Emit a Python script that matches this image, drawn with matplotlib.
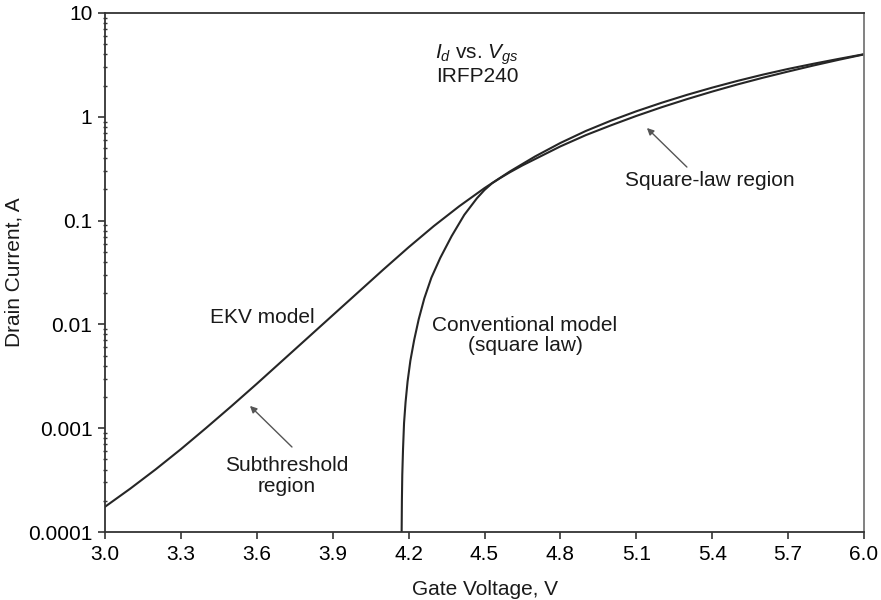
import numpy as np
import matplotlib
matplotlib.use('Agg')
import matplotlib.pyplot as plt
from matplotlib.ticker import FixedLocator, FixedFormatter, LogLocator, NullFormatter

plt.rcParams['font.family'] = ['Liberation Sans', 'DejaVu Sans']
plt.rcParams['mathtext.fontset'] = 'custom'
plt.rcParams['mathtext.rm'] = 'Liberation Sans'
plt.rcParams['mathtext.it'] = 'Liberation Sans:italic'

# EKV model
ekv_v = [3.0, 3.1, 3.2, 3.3, 3.4, 3.5, 3.6, 3.7, 3.8, 3.9, 4.0, 4.1, 4.2,
         4.3, 4.4, 4.5, 4.6, 4.7, 4.8, 4.9, 5.0, 5.1, 5.2, 5.3, 5.4, 5.5,
         5.6, 5.7, 5.8, 5.9, 6.0]
ekv_i = [1.750e-4, 2.618e-4, 4.009e-4, 6.281e-4, 1.007e-3, 1.633e-3,
         2.679e-3, 4.446e-3, 7.379e-3, 0.01225, 0.02032, 0.03373, 0.05534,
         0.08872, 0.1374, 0.2056, 0.2972, 0.4150, 0.5598, 0.7295, 0.9183,
         1.130, 1.365, 1.626, 1.910, 2.218, 2.547, 2.891, 3.243, 3.614, 4.009]

# conventional square-law model
sq_v = [4.1725, 4.1735, 4.175, 4.178, 4.182, 4.188, 4.196, 4.207, 4.222,
        4.24, 4.262, 4.29, 4.325, 4.37, 4.42, 4.47, 4.50, 4.53, 4.56, 4.60,
        4.65, 4.7, 4.8, 4.9, 5.0, 5.1, 5.2, 5.3, 5.4, 5.5, 5.6, 5.7, 5.8,
        5.9, 6.0]
sq_i = [1.0e-4, 2.0e-4, 3.55e-4, 6.3e-4, 1.12e-3, 1.78e-3, 2.82e-3, 4.47e-3,
        7.08e-3, 0.01122, 0.01778, 0.02818, 0.04365, 0.07079, 0.1135, 0.1641,
        0.1972, 0.2291, 0.2553, 0.2917, 0.3404, 0.3917, 0.5188, 0.6653,
        0.8279, 1.019, 1.236, 1.479, 1.750, 2.051, 2.377, 2.729, 3.119,
        3.540, 3.990]

xticks = [3.0, 3.3, 3.6, 3.9, 4.2, 4.5, 4.8, 5.1, 5.4, 5.7, 6.0]
xtick_labels = ["3.0", "3.3", "3.6", "3.9", "4.2", "4.5", "4.8", "5.1", "5.4", "5.7", "6.0"]
yticks = [1e-4, 1e-3, 1e-2, 1e-1, 1, 10]
ytick_labels = ["0.0001", "0.001", "0.01", "0.1", "1", "10"]

fig = plt.figure(figsize=(8.81, 6), dpi=100)
ax = fig.add_axes([105 / 881, 1 - 532 / 600, 759 / 881, 519 / 600])

line_col = '#262626'
ax.plot(ekv_v, ekv_i, color=line_col, lw=1.5)
ax.plot(sq_v, sq_i, color=line_col, lw=1.5)

ax.set_yscale('log')
ax.set_xlim(3.0, 6.0)
ax.set_ylim(1e-4, 10)

ax.xaxis.set_major_locator(FixedLocator(xticks))
ax.xaxis.set_major_formatter(FixedFormatter(xtick_labels))
ax.yaxis.set_major_locator(FixedLocator(yticks))
ax.yaxis.set_major_formatter(FixedFormatter(ytick_labels))
ax.yaxis.set_minor_locator(LogLocator(base=10, subs=np.arange(2, 10)))
ax.yaxis.set_minor_formatter(NullFormatter())

ax.tick_params(axis='both', which='major', direction='out', length=5, width=1.2,
               color='#333333', labelsize=15, pad=4)
ax.tick_params(axis='y', which='minor', direction='inout', length=3, width=1.0,
               color='#333333')
for s in ax.spines.values():
    s.set_color('#333333')
    s.set_linewidth(1.3)
ax.spines['right'].set_color('#777777')

ax.set_xlabel("Gate Voltage, V", fontsize=15, labelpad=12, color='#1a1a1a')
ax.set_ylabel("Drain Current, A", fontsize=15, labelpad=3, color='#1a1a1a')

txt = dict(fontsize=15, color='#1a1a1a', ha='center', va='center')
ax.text(4.47, 3.23, "$I_d$ vs. $V_{gs}$\nIRFP240", linespacing=1.0, **txt)
ax.text(3.62, 0.01153, "EKV model", **txt)
ax.text(3.719, 3.47e-4, "Subthreshold\nregion", linespacing=1.1, **txt)
ax.text(4.66, 7.82e-3, "Conventional model\n(square law)", linespacing=1.1, **txt)
ax.text(5.391, 0.241, "Square-law region", **txt)

arrow = dict(arrowstyle='-|>', color='#555555', lw=1.0, mutation_scale=10,
             shrinkA=0, shrinkB=0)
ax.annotate("", xy=(3.573, 1.64e-3), xytext=(3.739, 6.59e-4), arrowprops=arrow)
ax.annotate("", xy=(5.142, 0.78), xytext=(5.300, 0.328), arrowprops=arrow)

fig.savefig("out.png", dpi=100)
